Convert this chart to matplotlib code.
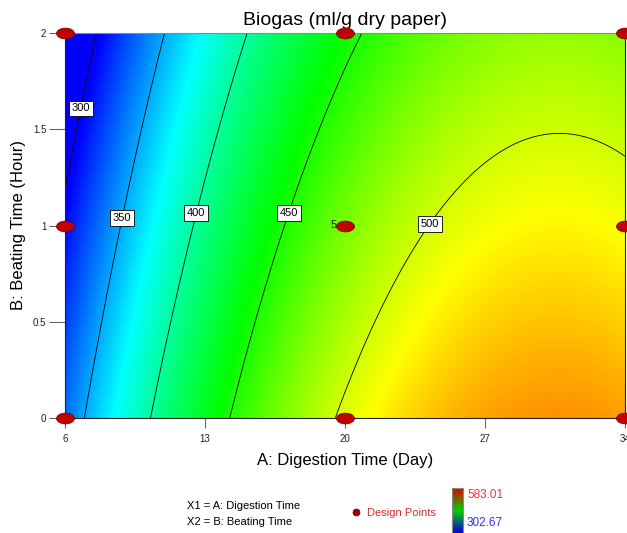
import numpy as np
import matplotlib
matplotlib.use('Agg')
import matplotlib.pyplot as plt
from matplotlib.colors import LinearSegmentedColormap
from matplotlib.lines import Line2D
from matplotlib.path import Path
from matplotlib.transforms import Affine2D

plt.rcParams['font.family'] = ['Liberation Sans', 'DejaVu Sans']

# design points (A = digestion time, B = beating time) and the model's
# predicted biogas at those points
design_a = [6, 6, 6, 20, 20, 20, 34, 34, 34]
design_b = [0, 1, 2, 0, 1, 2, 0, 1, 2]
design_pred = [333.9, 305.6, 274.4, 503.6, 475.3, 444.1, 539.2, 510.9, 479.7]
center_runs = 5

contour_levels = [300, 350, 400, 450, 500]
# where the contour labels sit (A, B)
label_a = [6.75, 8.86, 12.57, 17.18, 24.35]
label_b = [1.61, 1.04, 1.065, 1.065, 1.0]

x_ticks = [6, 13, 20, 27, 34]
y_ticks = [0, 0.5, 1, 1.5, 2]
y_ticklabels = ['0', '0.5', '1', '1.5', '2']

resp_min = 302.67
resp_max = 583.01


def fit_quadratic(a, b, y):
    """Full 2-factor quadratic response surface, least squares."""
    a = np.asarray(a, float)
    b = np.asarray(b, float)
    X = np.column_stack([np.ones_like(a), a, b, a * b, a ** 2, b ** 2])
    coef, *_ = np.linalg.lstsq(X, np.asarray(y, float), rcond=None)
    return coef


def predict(coef, a, b):
    return (coef[0] + coef[1] * a + coef[2] * b + coef[3] * a * b
            + coef[4] * a ** 2 + coef[5] * b ** 2)


coef = fit_quadratic(design_a, design_b, design_pred)
aa, bb = np.meshgrid(np.linspace(6, 34, 400), np.linspace(0, 2, 300))
zz = predict(coef, aa, bb)

W, H = 627, 533
fig = plt.figure(figsize=(W / 100, H / 100), dpi=100)
ax = fig.add_axes([65 / W, 1 - 417.7 / H, 560 / W, 384.4 / H])

surf_cmap = LinearSegmentedColormap.from_list(
    'de', ['#0000ff', '#00ffff', '#00ff00', '#ffff00', '#ff0000'])
ax.imshow(zz, extent=[6, 34, 0, 2], origin='lower', aspect='auto',
          cmap=surf_cmap, vmin=resp_min, vmax=resp_max, interpolation='bilinear')

cs = ax.contour(aa, bb, zz, levels=contour_levels, colors='black', linewidths=0.6)
texts = ax.clabel(cs, fmt='%d', fontsize=8, inline=False,
                  manual=list(zip(label_a, label_b)))
for t in texts:
    t.set_rotation(0)
    t.set_color('black')
    t.set_bbox(dict(boxstyle='square,pad=0.25', fc='white', ec='black', lw=0.6))
    t.set_zorder(6)

# design points drawn as flat ellipses
ellipse = Path.unit_circle().transformed(Affine2D().scale(1.0, 0.6))
ax.plot(design_a, design_b, linestyle='none', marker=ellipse, markersize=13,
        markerfacecolor='#c00000', markeredgecolor='#700000', markeredgewidth=0.5,
        clip_on=False, zorder=7)
ax.annotate(str(center_runs), xy=(20, 1), xytext=(-6, 0), textcoords='offset points',
            ha='right', va='center', fontsize=8, color='#222222')

ax.set_xlim(6, 34)
ax.set_ylim(0, 2)
ax.set_xticks(x_ticks)
ax.set_yticks(y_ticks)
ax.set_yticklabels(y_ticklabels)
ax.tick_params(axis='x', length=7, width=0.8, color='#666666', labelsize=7, pad=5,
               labelcolor='#222222')
ax.tick_params(axis='y', length=11.5, width=0.8, color='#666666', labelsize=7, pad=2,
               labelcolor='#222222')
for side in ['left', 'bottom', 'right']:
    ax.spines[side].set_color('#222222')
    ax.spines[side].set_linewidth(0.8)
ax.spines['top'].set_color('#888888')
ax.spines['top'].set_linewidth(0.8)

ax.set_title('Biogas (ml/g dry paper)', fontsize=14, pad=6)
ax.set_xlabel('A: Digestion Time (Day)', fontsize=12, labelpad=6)
ax.set_ylabel('B: Beating Time (Hour)', fontsize=12, labelpad=5)

# bottom legend
fig.text(187 / W, 1 - 506 / H, 'X1 = A: Digestion Time', fontsize=8, va='center')
fig.text(187 / W, 1 - 522 / H, 'X2 = B: Beating Time', fontsize=8, va='center')
fig.add_artist(Line2D([356 / W], [1 - 512 / H], transform=fig.transFigure,
                      marker='o', markersize=5, markerfacecolor='#a00000',
                      markeredgecolor='#500000', markeredgewidth=0.5))
fig.text(367 / W, 1 - 513 / H, 'Design Points', fontsize=8, va='center', color='#d03030')

cax = fig.add_axes([452 / W, 0, 11 / W, (H - 488) / H])
key_cmap = LinearSegmentedColormap.from_list('key', ['#0000e0', '#00d000', '#e00000'])
cax.imshow(np.linspace(1, 0, 100)[:, None], aspect='auto', cmap=key_cmap,
           interpolation='bilinear')
cax.set_xticks([])
cax.set_yticks([])
for s in cax.spines.values():
    s.set_color('#888888')
    s.set_linewidth(0.8)
fig.text(467 / W, 1 - 495 / H, f'{resp_max:.2f}', fontsize=8.5, va='center', color='#ff3030')
fig.text(467 / W, 1 - 523 / H, f'{resp_min:.2f}', fontsize=8.5, va='center', color='#3030ff')

fig.savefig('out.png', dpi=100)
